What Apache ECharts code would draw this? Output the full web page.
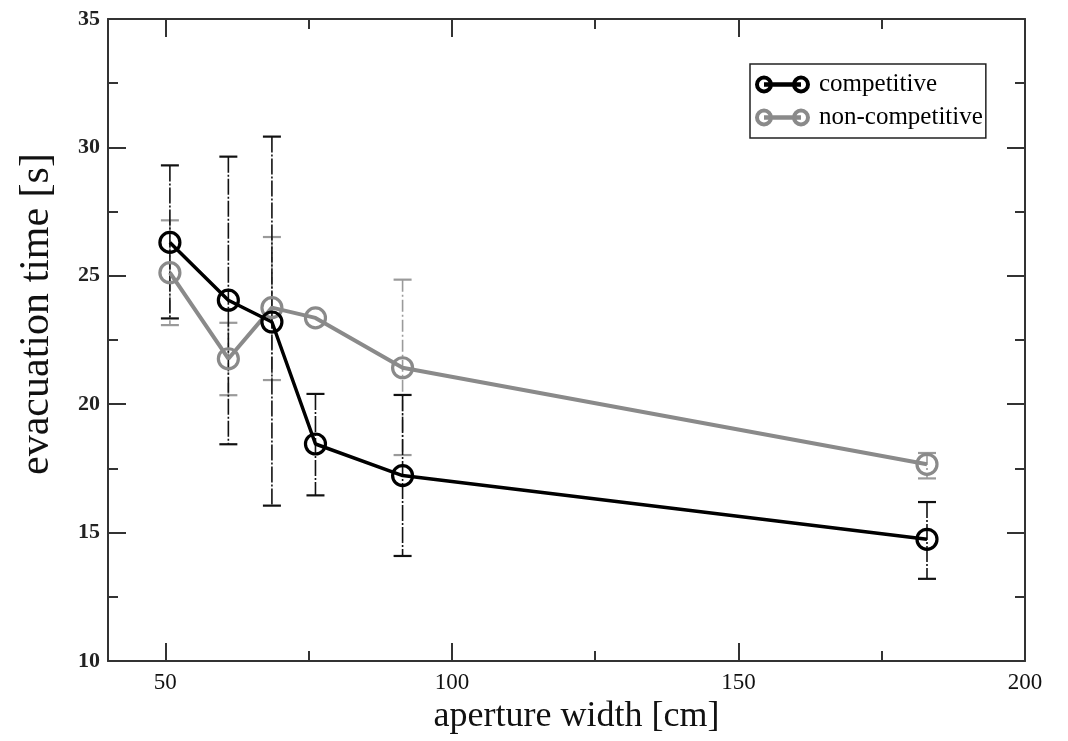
<!DOCTYPE html>
<html>
<head>
<meta charset="utf-8">
<script src="https://cdn.jsdelivr.net/npm/echarts@6/dist/echarts.min.js"></script>
<style>
html,body{margin:0;padding:0;background:#fff;}
#chart{width:1068px;height:741px;}
</style>
</head>
<body>
<div id="chart"></div>
<script>
// ---- data ----
const apertureCm = [50.8, 61, 68.6, 76.2, 91.4, 182.9];
const compMean = [26.3, 24.05, 23.2, 18.45, 17.22, 14.74];
const compHigh = [29.3, 29.64, 30.42, 20.4, 20.36, 16.19];
const compLow  = [23.34, 18.44, 16.05, 16.45, 14.09, 13.2];
const nonMean  = [25.12, 21.77, 23.76, 23.36, 21.42, 17.66];
const nonHigh  = [27.16, 23.17, 26.51, null, 24.85, 18.1];
const nonLow   = [23.08, 20.35, 20.94, null, 18.02, 17.11];
const xMajorTicks = [50, 100, 150, 200];
const xMinorTicks = [75, 125, 175];
const seriesNames = ['competitive', 'non-competitive'];

const BLACK = '#000000';
const GRAY = '#8a8a8a';
const AXIS = '#333333';
const FONT = 'Liberation Serif';

const legendIcon = 'path://M0,9 A9,9 0 1,1 18,9 A9,9 0 1,1 0,9 Z M4,9 A5,5 0 1,0 14,9 A5,5 0 1,0 4,9 Z ' +
  'M37,9 A9,9 0 1,1 55,9 A9,9 0 1,1 37,9 Z M41,9 A5,5 0 1,0 51,9 A5,5 0 1,0 41,9 Z ' +
  'M9,6.8 L46,6.8 L46,11.2 L9,11.2 Z';

function errData(low, high) {
  const out = [];
  apertureCm.forEach((x, i) => {
    if (low[i] != null && high[i] != null) out.push([x, low[i], high[i]]);
  });
  return out;
}

function errRender(color, width, dash) {
  return function (params, api) {
    const x = api.value(0);
    const lo = api.coord([x, api.value(1)]);
    const hi = api.coord([x, api.value(2)]);
    const cw = 9;
    return {
      type: 'group',
      children: [
        { type: 'line', shape: { x1: hi[0], y1: hi[1], x2: lo[0], y2: lo[1] },
          style: { stroke: color, lineWidth: width, lineDash: dash } },
        { type: 'line', shape: { x1: hi[0] - cw, y1: hi[1], x2: hi[0] + cw, y2: hi[1] },
          style: { stroke: color, lineWidth: 2.2 } },
        { type: 'line', shape: { x1: lo[0] - cw, y1: lo[1], x2: lo[0] + cw, y2: lo[1] },
          style: { stroke: color, lineWidth: 2.2 } }
      ]
    };
  };
}

function xAxisDef(pos, ticks, len, showLine, showLabel, extra) {
  return Object.assign({
    type: 'value', min: 40, max: 200, position: pos,
    axisLine: { show: showLine, onZero: false, lineStyle: { color: AXIS, width: 2 } },
    axisTick: { show: true, inside: true, length: len, customValues: ticks, lineStyle: { color: AXIS, width: 2 } },
    axisLabel: { show: showLabel, customValues: ticks, margin: 10, fontFamily: FONT, fontSize: 23, color: '#111' },
    splitLine: { show: false }
  }, extra || {});
}

function yAxisDef(pos, showLabel, extra) {
  return Object.assign({
    type: 'value', min: 10, max: 35, interval: 5, position: pos,
    axisLine: { show: true, onZero: false, lineStyle: { color: AXIS, width: 2 } },
    axisTick: { show: true, inside: true, length: 18, lineStyle: { color: AXIS, width: 2 } },
    minorTick: { show: true, splitNumber: 2, length: 10, lineStyle: { color: AXIS, width: 2 } },
    axisLabel: { show: showLabel, margin: 8, fontFamily: FONT, fontSize: 22, fontWeight: 'bold', color: '#222' },
    splitLine: { show: false }, minorSplitLine: { show: false }
  }, extra || {});
}

const chart = echarts.init(document.getElementById('chart'), null, { renderer: 'canvas' });
chart.setOption({
  animation: false,
  backgroundColor: '#ffffff',
  grid: { left: 108, right: 43, top: 19, bottom: 80, containLabel: false },
  legend: {
    orient: 'vertical', left: 750, top: 64,
    padding: [8, 3, 8, 5],
    borderColor: '#222', borderWidth: 1.5,
    itemWidth: 55, itemHeight: 18, itemGap: 8,
    icon: legendIcon,
    textStyle: { fontFamily: FONT, fontSize: 25, color: '#000', padding: [0, 0, 0, 4] },
    data: [
      { name: seriesNames[0], itemStyle: { color: BLACK, borderWidth: 0 } },
      { name: seriesNames[1], itemStyle: { color: GRAY, borderWidth: 0 } }
    ]
  },
  xAxis: [
    xAxisDef('bottom', xMajorTicks, 18, true, true, {
      name: 'aperture width [cm]', nameLocation: 'middle', nameGap: 38,
      nameTextStyle: { fontFamily: FONT, fontSize: 36, color: '#111', verticalAlign: 'top', padding: [0, 0, 0, 20] }
    }),
    xAxisDef('bottom', xMinorTicks, 10, false, false),
    xAxisDef('top', xMajorTicks, 18, true, false),
    xAxisDef('top', xMinorTicks, 10, false, false)
  ],
  yAxis: [
    yAxisDef('left', true, {
      name: 'evacuation time [s]', nameLocation: 'middle', nameGap: 50,
      nameTextStyle: { fontFamily: FONT, fontSize: 42, color: '#111', padding: [0, 0, 0, 52] }
    }),
    yAxisDef('right', false)
  ],
  series: [
    {
      type: 'custom', name: 'nonErr', xAxisIndex: 0, yAxisIndex: 0,
      renderItem: errRender('#9a9a9a', 1.6, [12, 3, 2, 3]), encode: { x: 0, y: [1, 2] },
      data: errData(nonLow, nonHigh), silent: true, z: 1
    },
    {
      type: 'custom', name: 'compErr', xAxisIndex: 0, yAxisIndex: 0,
      renderItem: errRender('#111', 1.6, [16, 2, 2, 2]), encode: { x: 0, y: [1, 2] },
      data: errData(compLow, compHigh), silent: true, z: 2
    },
    {
      type: 'line', name: seriesNames[1], xAxisIndex: 0, yAxisIndex: 0,
      data: apertureCm.map((x, i) => [x, nonMean[i]]),
      symbol: 'circle', symbolSize: 20,
      lineStyle: { color: GRAY, width: 4 },
      itemStyle: { color: 'rgba(0,0,0,0)', borderColor: GRAY, borderWidth: 3.2 },
      z: 3
    },
    {
      type: 'line', name: seriesNames[0], xAxisIndex: 0, yAxisIndex: 0,
      data: apertureCm.map((x, i) => [x, compMean[i]]),
      symbol: 'circle', symbolSize: 20,
      lineStyle: { color: BLACK, width: 3.5 },
      itemStyle: { color: 'rgba(0,0,0,0)', borderColor: BLACK, borderWidth: 3.2 },
      z: 4
    }
  ]
});
</script>
</body>
</html>
